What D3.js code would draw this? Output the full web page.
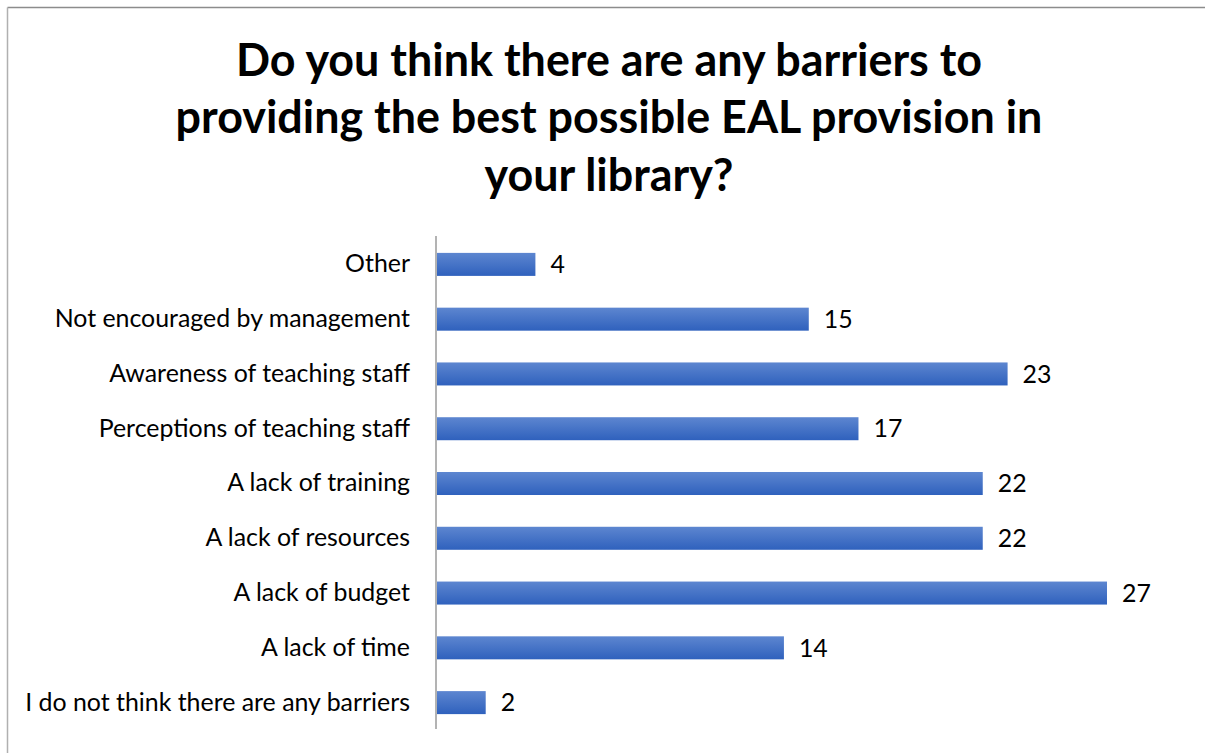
<!DOCTYPE html>
<html>
<head>
<meta charset="utf-8">
<script src="https://cdn.jsdelivr.net/npm/d3@7/dist/d3.min.js"></script>
<style>
  html, body { margin: 0; padding: 0; background: #fff; }
  svg { display: block; }
</style>
</head>
<body>
<svg id="chart" width="1205" height="753"></svg>
<script>
// Survey responses, listed top to bottom as drawn
const categories = [
  "Other",
  "Not encouraged by management",
  "Awareness of teaching staff",
  "Perceptions of teaching staff",
  "A lack of training",
  "A lack of resources",
  "A lack of budget",
  "A lack of time",
  "I do not think there are any barriers"
];
const responses = [4, 15, 23, 17, 22, 22, 27, 14, 2];
const titleLines = [
  "Do you think there are any barriers to",
  "providing the best possible EAL provision in",
  "your library?"
];

const svg = d3.select("#chart");
const FONT = "Lato, 'Open Sans', sans-serif";

// Chart frame (top and left edges visible)
svg.append("line").attr("x1", 7.5).attr("y1", 7.5).attr("x2", 1205).attr("y2", 7.5)
  .attr("stroke", "#8c8c8c").attr("stroke-width", 1.5);
svg.append("line").attr("x1", 7.5).attr("y1", 7.5).attr("x2", 7.5).attr("y2", 753)
  .attr("stroke", "#b0b0b0").attr("stroke-width", 1.5);

// Gradient fill for bars
const defs = svg.append("defs");
const grad = defs.append("linearGradient").attr("id", "barGrad")
  .attr("x1", 0).attr("y1", 0).attr("x2", 0).attr("y2", 1);
grad.append("stop").attr("offset", "0%").attr("stop-color", "#5d86d0");
grad.append("stop").attr("offset", "100%").attr("stop-color", "#2f61bd");

// Title, sized so the first line spans the intended width
const titleX = 609;
const titleBaselines = [76, 133, 191];
const title = svg.append("g");
title.selectAll("text")
  .data(titleLines)
  .join("text")
  .attr("x", titleX)
  .attr("y", (d, i) => titleBaselines[i])
  .attr("text-anchor", "middle")
  .attr("font-family", FONT).attr("font-weight", "bold")
  .attr("font-size", 36).attr("fill", "#000")
  .text(d => d);
const firstW = title.select("text").node().getComputedTextLength();
title.selectAll("text").attr("font-size", 36 * 746 / firstW);

// Scales
const x0 = 436;
const x = d3.scaleLinear().domain([0, 27]).range([x0, 1107]);
const y = d3.scaleBand().domain(categories).range([237, 730]).paddingInner(0.58).paddingOuter(0.29);

// Bars
svg.append("g").selectAll("rect")
  .data(categories)
  .join("rect")
  .attr("x", x(0))
  .attr("y", d => y(d))
  .attr("width", (d, i) => x(responses[i]) - x(0))
  .attr("height", y.bandwidth())
  .attr("fill", "url(#barGrad)");

// Category axis
const axis = svg.append("g").attr("transform", `translate(${x0},0)`)
  .call(d3.axisLeft(y).tickSize(0).tickPadding(26));
axis.select(".domain").attr("stroke", "#b3b3b3").attr("stroke-width", 2)
  .attr("d", "M0,236V729");
const labels = axis.selectAll("text")
  .attr("font-family", FONT).attr("font-size", 20).attr("fill", "#000");
const longest = d3.max(labels.nodes(), n => n.getComputedTextLength());
const labelSize = 20 * 385 / longest;
labels.attr("font-size", labelSize);

// Value labels
svg.append("g").selectAll("text")
  .data(categories)
  .join("text")
  .attr("x", (d, i) => x(responses[i]) + 15)
  .attr("y", d => y(d) + y.bandwidth() / 2)
  .attr("dy", "0.35em")
  .attr("font-family", FONT).attr("font-size", labelSize).attr("fill", "#000")
  .text((d, i) => responses[i]);
</script>
</body>
</html>
